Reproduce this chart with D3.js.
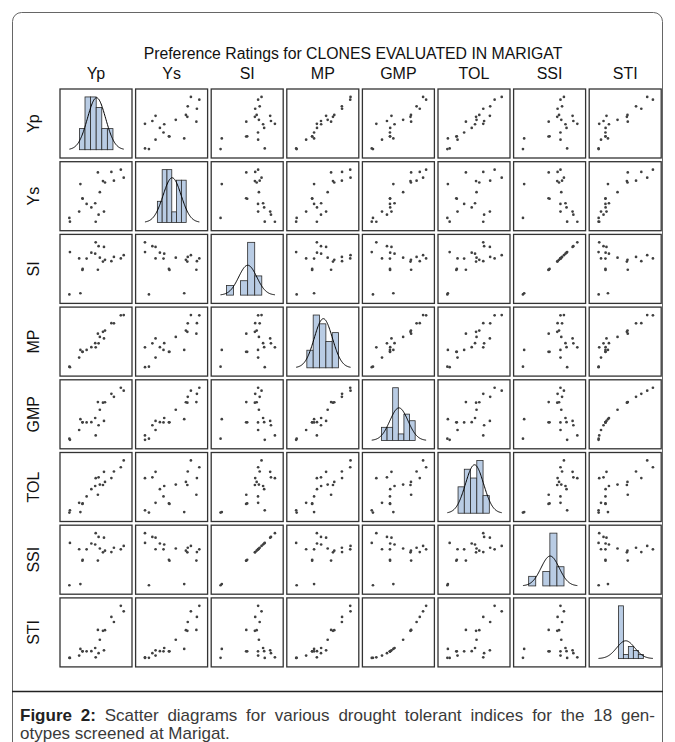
<!DOCTYPE html>
<html><head><meta charset="utf-8">
<script src="https://cdn.jsdelivr.net/npm/d3@7"></script>
<style>body{margin:0;background:#fff}</style>
</head><body>
<svg id="chart" width="675" height="742"></svg>
<script>
// ---- data ----
const variables = ["Yp","Ys","SI","MP","GMP","TOL","SSI","STI"];
const Yp  = [16.62,24.06,29.26,6.98,19.42,20.54,25.46,30.86,17.70,8.22,8.10,10.42,13.02,15.14,6.30,19.98,17.02,0.90,1.22,15.42];
const Ys  = [8.77,8.86,9.26,6.75,7.27,7.03,7.34,7.86,5.35,4.21,4.30,3.31,2.71,3.43,1.99,1.99,1.46,0.89,0.24,0.23];
const SI  = [0.472,0.632,0.684,0.033,0.626,0.658,0.712,0.745,0.698,0.488,0.469,0.682,0.792,0.773,0.684,0.900,0.914,0.011,0.803,0.985];
const MP  = [12.70,16.46,19.26,6.87,13.35,13.79,16.40,19.36,11.53,6.22,6.20,6.87,7.87,9.29,4.15,10.99,9.24,0.90,0.73,7.83];
const GMP = [12.07,14.60,16.46,6.86,11.88,12.02,13.67,15.57,9.73,5.88,5.90,5.87,5.94,7.21,3.54,6.31,4.99,0.89,0.54,1.88];
const TOL = [7.85,15.20,20.00,0.23,12.15,13.51,18.12,23.00,12.35,4.01,3.80,7.11,10.31,11.71,4.31,17.99,15.56,0.01,0.98,15.19];
const SSI = [0.679,0.908,0.982,0.047,0.899,0.945,1.023,1.071,1.003,0.701,0.674,0.981,1.138,1.111,0.983,1.294,1.314,0.016,1.154,1.416];
const STI = [0.620,0.907,1.153,0.200,0.601,0.614,0.795,1.032,0.403,0.147,0.148,0.147,0.150,0.221,0.053,0.169,0.106,0.003,0.001,0.015];

// histograms on the diagonal, in standardized units (z = (value-mean)/sd)
const histStartZ = [-1.89,-1.63,-2.35,-1.82,-1.93,-1.82,-2.37,-0.81];
const histWidthZ = [0.617,0.53,0.78,0.70,0.62,0.69,0.78,0.55];
const histCounts = [
  [2,5,5,4,2,2],
  [2,5,5,1,4,4],
  [2,0,3,11,4],
  [2,6,5,3,4],
  [2,2,8,1,4,3],
  [3,5,4,6,2],
  [2,0,3,11,4],
  [13,1,3,2,1]
];
const titleText = "Preference Ratings for CLONES EVALUATED IN MARIGAT";
const captionBold = "Figure 2:";
const captionLine1 = " Scatter diagrams for various drought tolerant indices for the 18 gen-";
const captionLine2 = "otypes screened at Marigat.";

const series = [Yp,Ys,SI,MP,GMP,TOL,SSI,STI];

// ---- layout ----
const svg = d3.select("#chart");
const W = 675, H = 742;
const gridX = 60, gridY = 89, pitchX = 75.6, pitchY = 72.7, pw = 72, ph = 69;
const padLo = 0.13, padHi = 0.885;
const font = "Liberation Sans, Arial, sans-serif";

svg.append("rect").attr("width",W).attr("height",H).attr("fill","#fff");
svg.append("rect").attr("x",12.5).attr("y",12.5).attr("width",650).attr("height",780)
  .attr("rx",9).attr("fill","none").attr("stroke","#666").attr("stroke-width",1);

svg.append("text").attr("x",353).attr("y",59).attr("text-anchor","middle")
  .attr("font-family",font).attr("font-size",15.8).attr("fill","#111")
  .text(titleText);

variables.forEach((v,k)=>{
  svg.append("text").attr("x",gridX+k*pitchX+pw/2).attr("y",79).attr("text-anchor","middle")
    .attr("font-family",font).attr("font-size",16).attr("fill","#111").text(v);
  const cy = gridY+k*pitchY+ph/2;
  svg.append("text").attr("transform",`translate(39,${cy}) rotate(-90)`).attr("text-anchor","middle")
    .attr("font-family",font).attr("font-size",16).attr("fill","#111").text(v);
});

// per-variable scatter scales (fraction of panel)
const frac = series.map(s => d3.scaleLinear().domain(d3.extent(s)).range([padLo,padHi]));

const N = Yp.length;
for (let i=0;i<8;i++){
  for (let j=0;j<8;j++){
    const x0 = gridX+j*pitchX, y0 = gridY+i*pitchY;
    const g = svg.append("g").attr("transform",`translate(${x0},${y0})`);
    if (i===j){
      const counts = histCounts[i], w = histWidthZ[i], z0 = histStartZ[i];
      const bars = counts.map((c,q)=>({x0:z0+q*w, x1:z0+(q+1)*w, d:c/(N*w)}));
      const peak = 1/Math.sqrt(2*Math.PI);
      const xs = d3.scaleLinear().domain([-3,3]).range([pw*padLo,pw*padHi]);
      const ys = d3.scaleLinear().domain([0,Math.max(d3.max(bars,b=>b.d),peak)]).range([ph*(1-0.12),ph*(1-padHi)]);
      g.selectAll("rect.bar").data(bars.filter(b=>b.d>0)).join("rect").attr("class","bar")
        .attr("x",b=>xs(b.x0)).attr("width",b=>xs(b.x1)-xs(b.x0))
        .attr("y",b=>ys(b.d)).attr("height",b=>ys(0)-ys(b.d))
        .attr("fill","#b9cce4").attr("stroke","#2b2b2b").attr("stroke-width",0.8);
      const curvePts = d3.range(0,121).map(t => { const z = -3+t*0.05; return [z, Math.exp(-0.5*z*z)*peak]; });
      g.append("path").attr("d",d3.line().x(d=>xs(d[0])).y(d=>ys(d[1]))(curvePts))
        .attr("fill","none").attr("stroke","#000").attr("stroke-width",1);
    } else {
      const xs = frac[j], ysc = frac[i];
      g.selectAll("circle").data(series[j].map((v,q)=>[v,series[i][q]])).join("circle")
        .attr("cx",d=>pw*xs(d[0])).attr("cy",d=>ph*(1-ysc(d[1]))).attr("r",1.35)
        .attr("fill","#404040");
    }
    g.append("rect").attr("width",pw).attr("height",ph).attr("fill","none")
      .attr("stroke","#333").attr("stroke-width",1.3);
  }
}

// caption
svg.append("line").attr("x1",12).attr("x2",663).attr("y1",691.5).attr("y2",691.5)
  .attr("stroke","#222").attr("stroke-width",1.5);
const cap = svg.append("text").attr("x",20).attr("y",721).attr("font-family",font)
  .attr("font-size",17).attr("fill","#3a3a3a");
cap.append("tspan").attr("font-weight","bold").attr("fill","#222").text(captionBold);
const rest = cap.append("tspan").text(captionLine1);
// justify the first line to the text block width
const natural = cap.node().getComputedTextLength();
const spaces = (captionBold + captionLine1).split(" ").length - 1;
const target = 655 - 20;
if (natural < target) cap.attr("word-spacing", (target-natural)/spaces);
svg.append("text").attr("x",20).attr("y",739).attr("font-family",font)
  .attr("font-size",17).attr("fill","#3a3a3a").text(captionLine2);
</script>
</body></html>
